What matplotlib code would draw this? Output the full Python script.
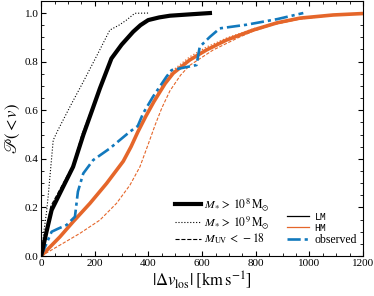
import matplotlib
matplotlib.use("Agg")
import matplotlib.pyplot as plt
from matplotlib.lines import Line2D
from matplotlib.ticker import MultipleLocator

plt.rcParams.update({
    "font.family": ["Liberation Serif", "DejaVu Serif"],
    "mathtext.fontset": "stix",
    "font.size": 8,
    "xtick.direction": "in", "ytick.direction": "in",
    "xtick.top": True, "ytick.right": True,
    "xtick.major.size": 3.5, "ytick.major.size": 3.5,
    "xtick.minor.size": 2, "ytick.minor.size": 2,
    "xtick.minor.visible": True, "ytick.minor.visible": True,
})

ORANGE = "#E5662A"
BLUE = "#1279BD"

# LM, M* > 1e8
lm8_v = [0, 20, 39, 82, 119, 157, 190, 219, 262, 300, 343, 370, 399, 440, 480, 560, 629]
lm8_p = [0, 0.1, 0.189, 0.285, 0.367, 0.498, 0.60, 0.69, 0.813, 0.87, 0.923, 0.95, 0.971, 0.982, 0.989, 0.995, 1.0]
# LM, M* > 1e9
lm9_v = [0, 10, 20, 26, 45, 63, 110, 157, 210, 256, 290, 318, 349, 405]
lm9_p = [0, 0.1, 0.18, 0.244, 0.477, 0.519, 0.62, 0.717, 0.83, 0.93, 0.95, 0.971, 0.999, 1.0]
# LM, MUV < -18
lmuv_v = [0, 20, 36, 80, 119, 152, 190, 219, 262, 300, 343, 370, 399, 440, 480, 560, 629]
lmuv_p = [0, 0.11, 0.205, 0.295, 0.375, 0.50, 0.61, 0.695, 0.815, 0.872, 0.924, 0.95, 0.971, 0.982, 0.989, 0.995, 1.0]
# HM, M* > 1e8
hm8_v = [0, 70, 119, 182, 244, 306, 335, 360, 390, 420, 462, 492, 554, 616, 691, 790, 880, 964, 1088, 1200]
hm8_p = [0, 0.079, 0.141, 0.217, 0.299, 0.39, 0.45, 0.51, 0.575, 0.635, 0.71, 0.752, 0.807, 0.848, 0.889, 0.93, 0.96, 0.979, 0.992, 0.998]
# HM, M* > 1e9
hm9_v = [0, 70, 119, 182, 244, 306, 335, 360, 390, 420, 462, 492, 554, 616, 691, 790, 880, 964, 1088, 1200]
hm9_p = [0, 0.079, 0.141, 0.217, 0.299, 0.39, 0.45, 0.512, 0.58, 0.643, 0.72, 0.765, 0.82, 0.86, 0.897, 0.935, 0.962, 0.98, 0.992, 0.998]
# HM, MUV < -18
hmuv_v = [0, 70, 144, 219, 281, 331, 368, 399, 425, 450, 480, 520, 554, 641, 741, 790, 865, 964, 1088, 1200]
hmuv_p = [0, 0.045, 0.093, 0.148, 0.217, 0.292, 0.367, 0.46, 0.54, 0.61, 0.68, 0.745, 0.785, 0.848, 0.902, 0.925, 0.952, 0.975, 0.99, 0.997]
# observed
obs_v = [0, 39, 62, 95, 126, 137, 157, 194, 256, 331, 360, 380, 417, 467, 486, 579, 591, 629, 666, 766, 880, 977]
obs_p = [0, 0.1, 0.112, 0.128, 0.162, 0.265, 0.34, 0.395, 0.443, 0.512, 0.535, 0.587, 0.656, 0.738, 0.765, 0.786, 0.861, 0.902, 0.937, 0.952, 0.975, 1.0]

fig = plt.figure(figsize=(3.74, 2.96), dpi=100)
ax = fig.add_axes([0.110, 0.135, 0.861, 0.862])

ax.plot(hmuv_v, hmuv_p, color=ORANGE, lw=0.8, ls=(0, (3, 1.5)))
ax.plot(hm9_v, hm9_p, color=ORANGE, lw=0.9, ls=":")
ax.plot(hm8_v, hm8_p, color=ORANGE, lw=2.6)
ax.plot(obs_v, obs_p, color=BLUE, lw=1.9, ls=(0, (5, 1.5, 1.2, 1.5)))
ax.plot(lm9_v, lm9_p, color="k", lw=0.8, ls=":")
ax.plot(lmuv_v, lmuv_p, color="k", lw=0.8, ls="--")
ax.plot(lm8_v, lm8_p, color="k", lw=3.0)

ax.set_xlim(0, 1200)
ax.set_ylim(0, 1.05)
ax.xaxis.set_major_locator(MultipleLocator(200))
ax.xaxis.set_minor_locator(MultipleLocator(50))
ax.yaxis.set_major_locator(MultipleLocator(0.2))
ax.yaxis.set_minor_locator(MultipleLocator(0.05))
ax.tick_params(labelsize=8, pad=2)
ax.set_xlabel(r"$|\Delta v_{\rm los}|\;[\rm km\,s^{-1}]$", fontsize=12, labelpad=1)
ax.set_ylabel(r"$\mathscr{P}(<v)$", fontsize=12, labelpad=2)

h1 = [Line2D([], [], color="k", lw=3.0),
      Line2D([], [], color="k", lw=0.8, ls=":"),
      Line2D([], [], color="k", lw=0.8, ls="--")]
l1 = [r"$M_{\ast}\,>\,10^{8}\,\rm M_{\odot}$", r"$M_{\ast}\,>\,10^{9}\,\rm M_{\odot}$",
      r"$M_{\rm UV}\,<\,-18$"]
leg1 = ax.legend(h1, l1, loc="lower left", bbox_to_anchor=(0.415, 0.038), frameon=False,
                 fontsize=8.5, handlelength=2.2, handletextpad=0.3, labelspacing=0.1,
                 borderaxespad=0, borderpad=0)
ax.add_artist(leg1)

h2 = [Line2D([], [], color="k", lw=0.9),
      Line2D([], [], color=ORANGE, lw=0.9),
      Line2D([], [], color=BLUE, lw=1.9, ls=(0, (5, 1.5, 1.2, 1.5)))]
l2 = ["LM", "HM", "observed"]
leg2 = ax.legend(h2, l2, loc="lower left", bbox_to_anchor=(0.763, 0.038), frameon=False,
                 fontsize=8.5, handlelength=1.9, handletextpad=0.45, labelspacing=0.1,
                 borderaxespad=0, borderpad=0)
for t in leg2.get_texts()[:2]:
    t.set_family("Liberation Mono")
    t.set_fontsize(7)

fig.savefig("out.png", dpi=100)
